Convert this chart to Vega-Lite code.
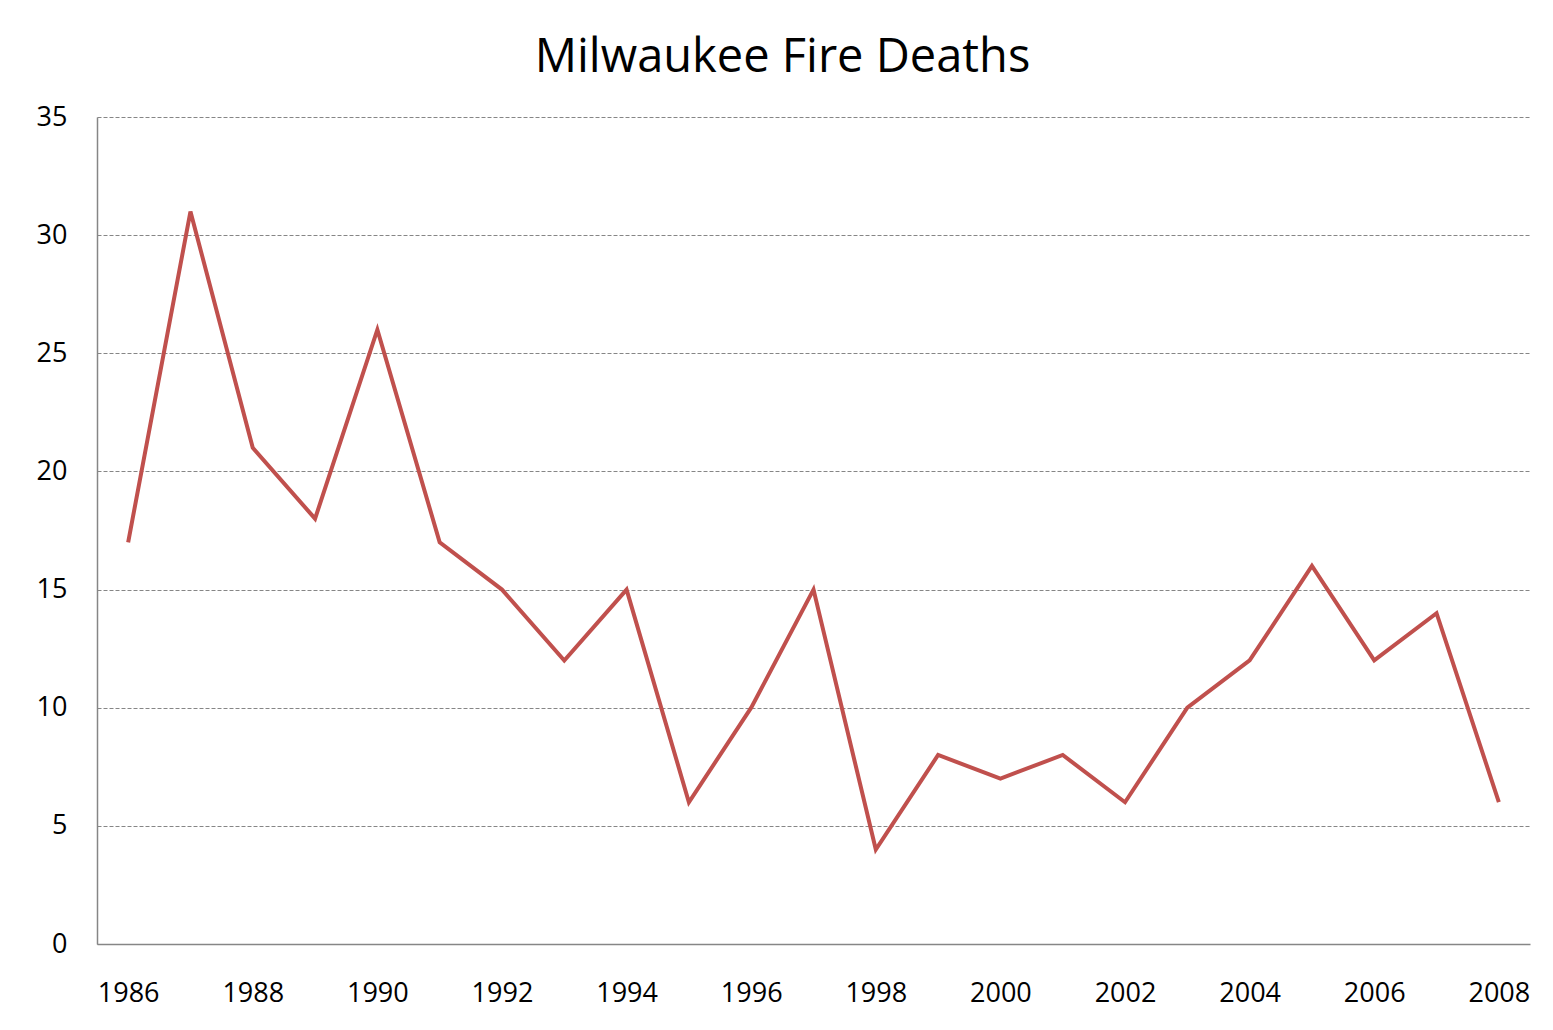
{
  "$schema": "https://vega.github.io/schema/vega-lite/v6.json",
  "width": 1433,
  "height": 827,
  "autosize": {"type": "none"},
  "padding": {"left": 97, "top": 117, "right": 23, "bottom": 86},
  "background": "white",
  "title": {
    "text": "Milwaukee Fire Deaths",
    "font": "Open Sans",
    "fontSize": 47,
    "fontWeight": "normal",
    "color": "black",
    "anchor": "middle",
    "baseline": "alphabetic",
    "offset": -16,
    "dx": -31
  },
  "config": {
    "view": {"stroke": null},
    "font": "Open Sans"
  },
  "data": {
    "values": [
      {"year": 1986, "deaths": 17},
      {"year": 1987, "deaths": 31},
      {"year": 1988, "deaths": 21},
      {"year": 1989, "deaths": 18},
      {"year": 1990, "deaths": 26},
      {"year": 1991, "deaths": 17},
      {"year": 1992, "deaths": 15},
      {"year": 1993, "deaths": 12},
      {"year": 1994, "deaths": 15},
      {"year": 1995, "deaths": 6},
      {"year": 1996, "deaths": 10},
      {"year": 1997, "deaths": 15},
      {"year": 1998, "deaths": 4},
      {"year": 1999, "deaths": 8},
      {"year": 2000, "deaths": 7},
      {"year": 2001, "deaths": 8},
      {"year": 2002, "deaths": 6},
      {"year": 2003, "deaths": 10},
      {"year": 2004, "deaths": 12},
      {"year": 2005, "deaths": 16},
      {"year": 2006, "deaths": 12},
      {"year": 2007, "deaths": 14},
      {"year": 2008, "deaths": 6}
    ]
  },
  "mark": {"type": "line", "color": "#C0504D", "strokeWidth": 4, "strokeJoin": "miter"},
  "encoding": {
    "x": {
      "field": "year",
      "type": "ordinal",
      "scale": {"type": "point", "padding": 0.5},
      "axis": {
        "title": null,
        "labelAngle": 0,
        "ticks": false,
        "domainColor": "#868686",
        "domainWidth": 1.5,
        "labelFont": "Open Sans",
        "labelFontSize": 27,
        "labelColor": "black",
        "labelPadding": 36,
        "labelOverlap": false,
        "labelExpr": "datum.value % 2 == 0 ? datum.label : ''",
        "grid": false
      }
    },
    "y": {
      "field": "deaths",
      "type": "quantitative",
      "scale": {"domain": [0, 35], "nice": false},
      "axis": {
        "title": null,
        "values": [0, 5, 10, 15, 20, 25, 30, 35],
        "ticks": false,
        "domainColor": "#868686",
        "domainWidth": 1.5,
        "labelFont": "Open Sans",
        "labelFontSize": 27,
        "labelColor": "black",
        "labelPadding": 30,
        "grid": true,
        "gridColor": "#868686",
        "gridDash": [4, 2],
        "gridWidth": 1
      }
    }
  }
}
